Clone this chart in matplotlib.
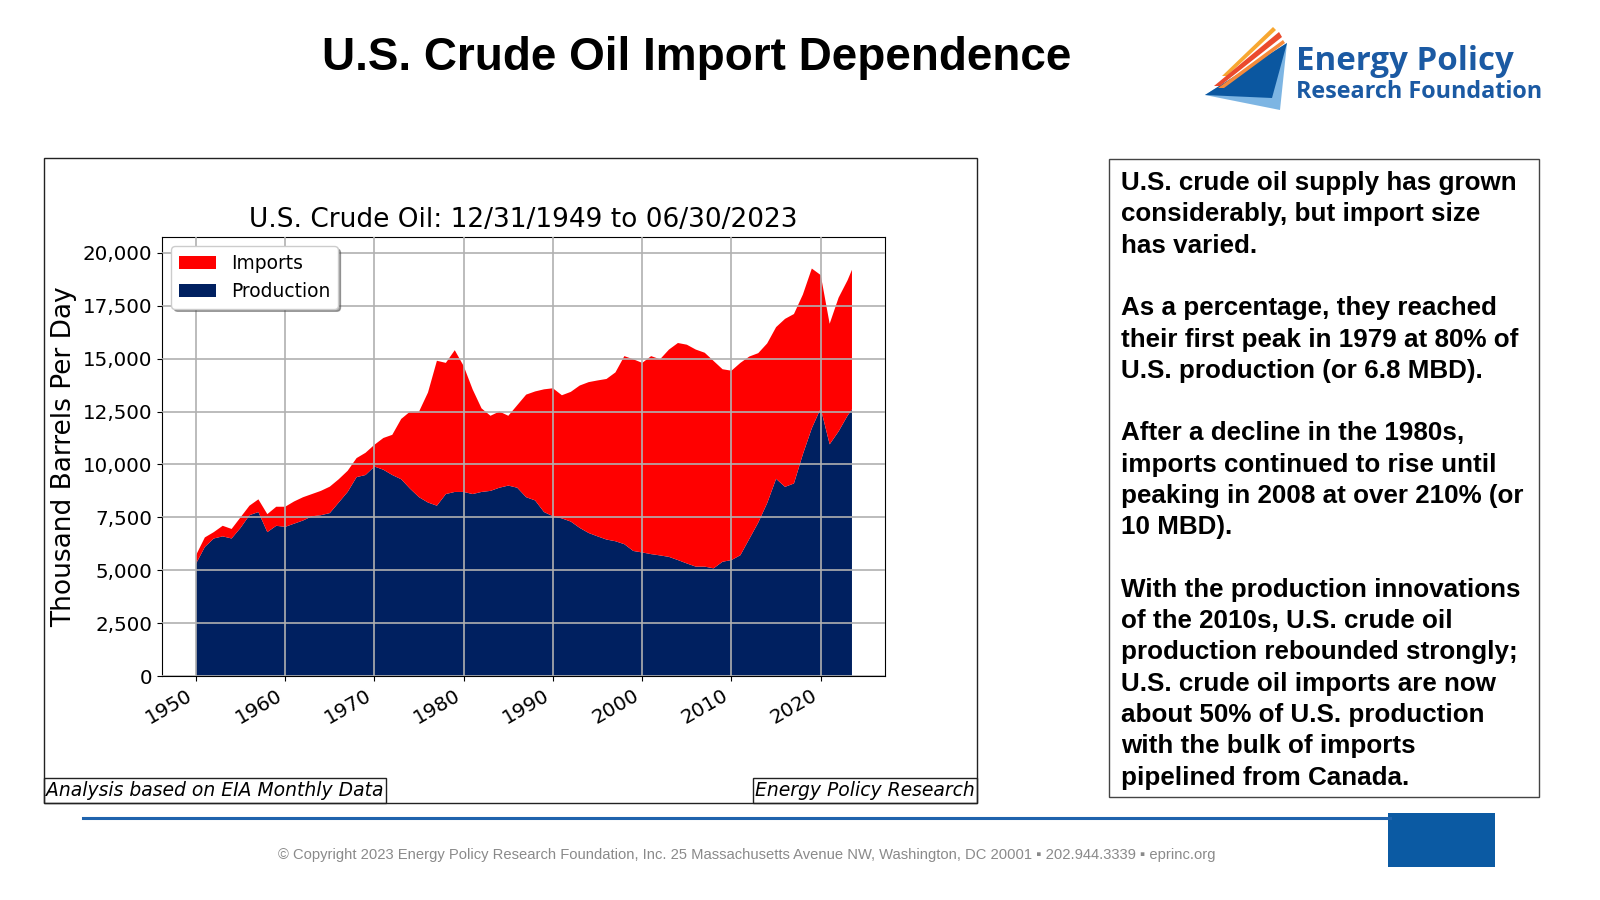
import matplotlib.pyplot as plt
from matplotlib.patches import Rectangle, Polygon
from matplotlib.ticker import StrMethodFormatter

# annual readings (start of each year) off the chart, thousand barrels per day
years = [1950, 1951, 1952, 1953, 1954, 1955, 1956, 1957, 1958, 1959,
         1960, 1961, 1962, 1963, 1964, 1965, 1966, 1967, 1968, 1969,
         1970, 1971, 1972, 1973, 1974, 1975, 1976, 1977, 1978, 1979,
         1980, 1981, 1982, 1983, 1984, 1985, 1986, 1987, 1988, 1989,
         1990, 1991, 1992, 1993, 1994, 1995, 1996, 1997, 1998, 1999,
         2000, 2001, 2002, 2003, 2004, 2005, 2006, 2007, 2008, 2009,
         2010, 2011, 2012, 2013, 2014, 2015, 2016, 2017, 2018, 2019,
         2020, 2021, 2022, 2023, 2023.5]
production = [5300, 6100, 6500, 6600, 6500, 7000, 7600, 7750, 6800, 7100,
              7050, 7200, 7350, 7550, 7600, 7700, 8200, 8700, 9400, 9500,
              9900, 9750, 9500, 9300, 8850, 8450, 8200, 8050, 8600, 8700,
              8700, 8600, 8700, 8750, 8900, 9000, 8900, 8450, 8300, 7750,
              7550, 7450, 7300, 7000, 6760, 6600, 6450, 6370, 6230, 5910,
              5840, 5760, 5700, 5630, 5480, 5320, 5170, 5170, 5090, 5400,
              5480, 5710, 6480, 7250, 8170, 9320, 8940, 9100, 10480, 11710,
              12650, 10950, 11560, 12300, 12600]
total_supply = [5700, 6550, 6800, 7100, 6950, 7500, 8050, 8350, 7650, 8000,
                8000, 8250, 8450, 8600, 8750, 8950, 9300, 9700, 10300, 10550,
                10930, 11250, 11400, 12150, 12500, 12500, 13400, 14900, 14800, 15400,
                14650, 13550, 12650, 12300, 12500, 12300, 12800, 13300, 13450, 13550,
                13600, 13270, 13430, 13730, 13890, 13970, 14040, 14350, 15120, 14970,
                14800, 15120, 14970, 15430, 15740, 15660, 15430, 15280, 14890, 14500,
                14430, 14800, 15100, 15260, 15720, 16490, 16880, 17110, 18030, 19260,
                18950, 16650, 17880, 18700, 19200]
imports = [t - p for t, p in zip(total_supply, production)]

decade_ticks = [1950, 1960, 1970, 1980, 1990, 2000, 2010, 2020]

notes = [
    "U.S. crude oil supply has grown",
    "considerably, but import size",
    "has varied.",
    "",
    "As a percentage, they reached",
    "their first peak in 1979 at 80% of",
    "U.S. production (or 6.8 MBD).",
    "",
    "After a decline in the 1980s,",
    "imports continued to rise until",
    "peaking in 2008 at over 210% (or",
    "10 MBD).",
    "",
    "With the production innovations",
    "of the 2010s, U.S. crude oil",
    "production rebounded strongly;",
    "U.S. crude oil imports are now",
    "about 50% of U.S. production",
    "with the bulk of imports",
    "pipelined from Canada.",
]

W, H = 1600, 900


def fx(x):
    return x / W


def fy(y):
    return 1 - y / H


fig = plt.figure(figsize=(16, 9), dpi=100)
fig.patch.set_facecolor('white')

# slide title
fig.text(fx(697), fy(58), "U.S. Crude Oil Import Dependence", ha='center', va='center',
         fontsize=33, fontweight='bold', family='Liberation Sans')

# logo
logo_blue = '#1b5aa3'
fig.add_artist(Polygon([(fx(1205), fy(95)), (fx(1287), fy(43)), (fx(1280), fy(110))],
                       closed=True, transform=fig.transFigure, color='#7db5e3', lw=0))
fig.add_artist(Polygon([(fx(1205), fy(95)), (fx(1287), fy(43)), (fx(1272), fy(98))],
                       closed=True, transform=fig.transFigure, color='#0b57a0', lw=0))
fig.add_artist(Polygon([(fx(1222), fy(76)), (fx(1273), fy(27)), (fx(1276), fy(30)), (fx(1227), fy(76))],
                       closed=True, transform=fig.transFigure, color='#f7a731', lw=0))
fig.add_artist(Polygon([(fx(1214), fy(86)), (fx(1279), fy(32)), (fx(1282), fy(37)), (fx(1220), fy(86))],
                       closed=True, transform=fig.transFigure, color='#eb4a2d', lw=0))
fig.add_artist(Polygon([(fx(1218), fy(88)), (fx(1283), fy(40)), (fx(1285), fy(43)), (fx(1224), fy(88))],
                       closed=True, transform=fig.transFigure, color='#f58a3a', lw=0))
fig.text(fx(1296), fy(62), "Energy Policy", ha='left', va='center', fontsize=23.8,
         fontweight='bold', color=logo_blue, family='Open Sans')
fig.text(fx(1296), fy(92), "Research Foundation", ha='left', va='center', fontsize=16.8,
         fontweight='bold', color=logo_blue, family='Open Sans')

# chart frame and source tags
fig.add_artist(Rectangle((fx(44), fy(803)), fx(977) - fx(44), fy(158) - fy(803),
                         transform=fig.transFigure, fill=False, ec='#222222', lw=1))
fig.add_artist(Rectangle((fx(44), fy(803)), fx(386) - fx(44), fy(778) - fy(803),
                         transform=fig.transFigure, fill=False, ec='#222222', lw=1))
fig.add_artist(Rectangle((fx(753), fy(803)), fx(977) - fx(753), fy(778) - fy(803),
                         transform=fig.transFigure, fill=False, ec='#222222', lw=1))
fig.text(fx(46), fy(791), "Analysis based on EIA Monthly Data", ha='left', va='center',
         fontsize=13.5, style='italic')
fig.text(fx(975), fy(791), "Energy Policy Research", ha='right', va='center',
         fontsize=13.5, style='italic')

# the chart itself
ax = fig.add_axes([fx(162), fy(676), fx(885) - fx(162), fy(237) - fy(676)])
ax.stackplot(years, production, imports, colors=['#002060', '#ff0000'],
             labels=['Production', 'Imports'], lw=0)
ax.set_xlim(1946.2, 2027.2)
ax.set_ylim(0, 20750)
ax.set_xticks(decade_ticks)
ax.yaxis.set_major_formatter(StrMethodFormatter('{x:,.0f}'))
ax.tick_params(labelsize=14.3)
plt.setp(ax.get_xticklabels(), rotation=30, ha='right')
ax.grid(True, color='#b0b0b0', lw=1.2)
ax.set_axisbelow(False)
ax.set_title("U.S. Crude Oil: 12/31/1949 to 06/30/2023", fontsize=19, pad=7)
ax.set_ylabel("Thousand Barrels Per Day", fontsize=19)
handles, labels = ax.get_legend_handles_labels()
ax.legend(handles[::-1], labels[::-1], loc='upper left', fontsize=13.4, shadow=True,
          fancybox=True, framealpha=1)

# commentary box
fig.add_artist(Rectangle((fx(1109), fy(797)), fx(1539) - fx(1109), fy(159) - fy(797),
                         transform=fig.transFigure, fill=False, ec='#444444', lw=1))
for i, line in enumerate(notes):
    fig.text(fx(1121), fy(183 + i * 31.3), line, ha='left', va='center', fontsize=18.7,
             fontweight='bold', family='Liberation Sans')

# footer
fig.add_artist(plt.Line2D([fx(83), fx(1390)], [fy(818), fy(818)], transform=fig.transFigure,
                          color='#1f63ad', lw=2.2))
fig.add_artist(Rectangle((fx(1388), fy(867)), fx(1495) - fx(1388), fy(813) - fy(867),
                         transform=fig.transFigure, color='#0b5aa3', lw=0))
fig.text(fx(747), fy(855),
         "\u00a9 Copyright 2023 Energy Policy Research Foundation, Inc. 25 Massachusetts Avenue NW, "
         "Washington, DC 20001 \u25aa 202.944.3339 \u25aa eprinc.org",
         ha='center', va='center', fontsize=10.6, color='#8a8a8a',
         family=['Liberation Sans', 'DejaVu Sans'])

fig.savefig('out.png', dpi=100)
